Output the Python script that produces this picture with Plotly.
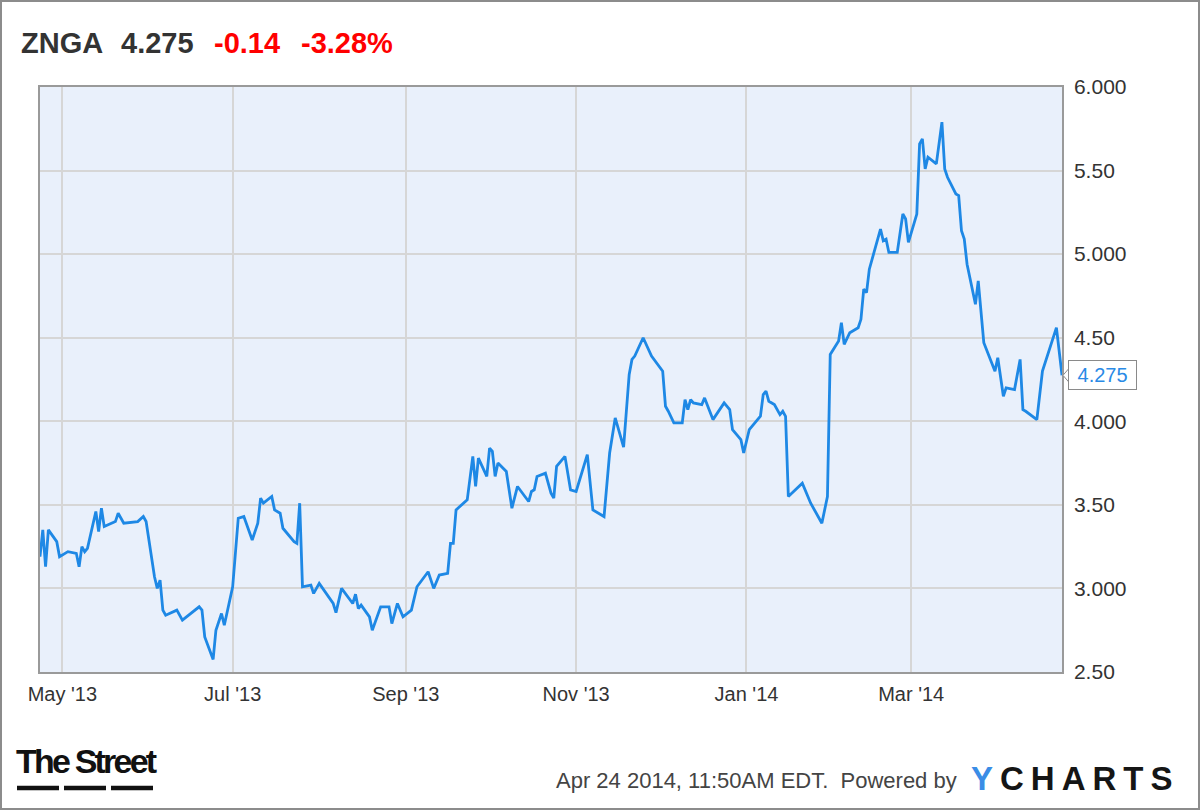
import plotly.graph_objects as go

# ---------------- data ----------------
dates = [
    "2013-04-23", "2013-04-24", "2013-04-25", "2013-04-26", "2013-04-29", "2013-04-30",
    "2013-05-03", "2013-05-06", "2013-05-07", "2013-05-08", "2013-05-09", "2013-05-10",
    "2013-05-13", "2013-05-14", "2013-05-15", "2013-05-16", "2013-05-20", "2013-05-21",
    "2013-05-23", "2013-05-28", "2013-05-30", "2013-05-31", "2013-06-03", "2013-06-04",
    "2013-06-05", "2013-06-06", "2013-06-07", "2013-06-11", "2013-06-13", "2013-06-19",
    "2013-06-20", "2013-06-21", "2013-06-24", "2013-06-25", "2013-06-27", "2013-06-28",
    "2013-07-01", "2013-07-03", "2013-07-05", "2013-07-08", "2013-07-10", "2013-07-11",
    "2013-07-12", "2013-07-15", "2013-07-16", "2013-07-18", "2013-07-19", "2013-07-23",
    "2013-07-24", "2013-07-25", "2013-07-26", "2013-07-29", "2013-07-30", "2013-08-01",
    "2013-08-06", "2013-08-07", "2013-08-09", "2013-08-13", "2013-08-14", "2013-08-15",
    "2013-08-16", "2013-08-19", "2013-08-20", "2013-08-23", "2013-08-26", "2013-08-27",
    "2013-08-29", "2013-08-31", "2013-09-03", "2013-09-05", "2013-09-09", "2013-09-11",
    "2013-09-13", "2013-09-16", "2013-09-17", "2013-09-18", "2013-09-19", "2013-09-23",
    "2013-09-25", "2013-09-26", "2013-09-27", "2013-09-30", "2013-10-01", "2013-10-02",
    "2013-10-03", "2013-10-04", "2013-10-07", "2013-10-09", "2013-10-11", "2013-10-15",
    "2013-10-16", "2013-10-17", "2013-10-18", "2013-10-21", "2013-10-23", "2013-10-24",
    "2013-10-25", "2013-10-28", "2013-10-30", "2013-11-01", "2013-11-05", "2013-11-07",
    "2013-11-11", "2013-11-13", "2013-11-15", "2013-11-18", "2013-11-20", "2013-11-21",
    "2013-11-22", "2013-11-25", "2013-11-28", "2013-12-02", "2013-12-03", "2013-12-04",
    "2013-12-06", "2013-12-09", "2013-12-10", "2013-12-11", "2013-12-12", "2013-12-13",
    "2013-12-16", "2013-12-17", "2013-12-20", "2013-12-24", "2013-12-26", "2013-12-27",
    "2013-12-30", "2013-12-31", "2014-01-02", "2014-01-06", "2014-01-07", "2014-01-08",
    "2014-01-09", "2014-01-11", "2014-01-13", "2014-01-14", "2014-01-15", "2014-01-16",
    "2014-01-21", "2014-01-24", "2014-01-28", "2014-01-30", "2014-01-31", "2014-02-03",
    "2014-02-04", "2014-02-05", "2014-02-07", "2014-02-10", "2014-02-11", "2014-02-12",
    "2014-02-13", "2014-02-14", "2014-02-18", "2014-02-19", "2014-02-20", "2014-02-21",
    "2014-02-24", "2014-02-26", "2014-02-27", "2014-02-28", "2014-03-03", "2014-03-04",
    "2014-03-05", "2014-03-06", "2014-03-07", "2014-03-10", "2014-03-12", "2014-03-13",
    "2014-03-14", "2014-03-17", "2014-03-18", "2014-03-19", "2014-03-20", "2014-03-21",
    "2014-03-24", "2014-03-25", "2014-03-27", "2014-03-31", "2014-04-01", "2014-04-03",
    "2014-04-04", "2014-04-07", "2014-04-09", "2014-04-10", "2014-04-11", "2014-04-15",
    "2014-04-17", "2014-04-22", "2014-04-24",
]
prices = [
    3.19, 3.35, 3.13, 3.35, 3.28, 3.19,
    3.22, 3.21, 3.13, 3.25, 3.22, 3.24,
    3.46, 3.34, 3.48, 3.37, 3.40, 3.45,
    3.39, 3.40, 3.43, 3.40, 3.07, 3.00,
    3.05, 2.87, 2.84, 2.87, 2.81, 2.89,
    2.87, 2.71, 2.575, 2.75, 2.85, 2.78,
    3.01, 3.42, 3.43, 3.29, 3.39, 3.54,
    3.51, 3.55, 3.47, 3.45, 3.36, 3.28,
    3.27, 3.51, 3.01, 3.02, 2.97, 3.03,
    2.91, 2.855, 3.00, 2.91, 2.965, 2.88,
    2.90, 2.83, 2.75, 2.89, 2.89, 2.79,
    2.91, 2.83, 2.87, 3.01, 3.10, 3.00,
    3.08, 3.09, 3.27, 3.27, 3.47, 3.53,
    3.79, 3.61, 3.78, 3.67, 3.84, 3.82,
    3.67, 3.75, 3.70, 3.48, 3.61, 3.52,
    3.58, 3.59, 3.67, 3.69, 3.57, 3.54,
    3.73, 3.79, 3.59, 3.58, 3.80, 3.47,
    3.43, 3.81, 4.02, 3.845, 4.28, 4.37,
    4.39, 4.50, 4.39, 4.30, 4.09, 4.06,
    3.99, 3.99, 4.13, 4.07, 4.13, 4.11,
    4.10, 4.14, 4.01, 4.11, 4.07, 3.95,
    3.89, 3.81, 3.95, 4.03, 4.16, 4.18,
    4.12, 4.10, 4.04, 4.06, 4.03, 3.55,
    3.63, 3.51, 3.39, 3.55, 4.40, 4.48,
    4.59, 4.46, 4.53, 4.56, 4.61, 4.79,
    4.77, 4.91, 5.15, 5.08, 5.09, 5.01,
    5.01, 5.24, 5.21, 5.07, 5.24, 5.66,
    5.69, 5.51, 5.58, 5.54, 5.79, 5.51,
    5.46, 5.36, 5.35, 5.14, 5.09, 4.94,
    4.70, 4.84, 4.47, 4.30, 4.38, 4.15,
    4.20, 4.19, 4.37, 4.07, 4.06, 4.01,
    4.30, 4.56, 4.275,
]
x_tick_dates = ["2013-05-01", "2013-07-01", "2013-09-01", "2013-11-01", "2014-01-01", "2014-03-01"]
x_tick_labels = ["May '13", "Jul '13", "Sep '13", "Nov '13", "Jan '14", "Mar '14"]
y_tick_values = [2.5, 3.0, 3.5, 4.0, 4.5, 5.0, 5.5, 6.0]
y_tick_labels = ["2.50", "3.000", "3.50", "4.000", "4.50", "5.000", "5.50", "6.000"]

ticker = "ZNGA"
last_price_label = "4.275"
change_label = "-0.14"
change_pct_label = "-3.28%"
last_price = 4.275
timestamp_label = "Apr 24 2014, 11:50AM EDT.\u00a0 Powered by"

# ---------------- layout helpers ----------------
W, H = 1200, 810
L, R, T, B = 40, 138, 87, 138
PW, PH = W - L - R, H - T - B


def px(x):
    return (x - L) / PW


def py(y):
    return (H - B - y) / PH


LINE_BLUE = "#1e88e5"
FONT = "Liberation Sans, Arial, Helvetica, sans-serif"

fig = go.Figure(
    go.Scatter(
        x=dates, y=prices, mode="lines",
        line=dict(color=LINE_BLUE, width=2.8),
        hoverinfo="skip",
    )
)

fig.update_layout(
    width=W, height=H,
    margin=dict(l=L, r=R, t=T, b=B, pad=0),
    paper_bgcolor="white",
    plot_bgcolor="#e9f0fb",
    showlegend=False,
    font=dict(family=FONT, color="#333333"),
)

fig.update_xaxes(
    type="date",
    range=[dates[0], dates[-1]],
    tickvals=x_tick_dates, ticktext=x_tick_labels,
    showgrid=True, gridcolor="#d6d6d6", gridwidth=1.5,
    showline=True, linecolor="#9a9a9a", linewidth=1.5, mirror=True,
    ticks="", zeroline=False,
    tickfont=dict(size=20, color="#333333", family=FONT),
    ticklabelstandoff=3,
)
fig.update_yaxes(
    side="right",
    range=[2.5, 6.0],
    tickvals=y_tick_values, ticktext=y_tick_labels,
    showgrid=True, gridcolor="#d6d6d6", gridwidth=1.5,
    showline=True, linecolor="#9a9a9a", linewidth=1.5, mirror=True,
    ticks="", zeroline=False,
    tickfont=dict(size=21, color="#333333", family=FONT),
    ticklabelstandoff=6,
)

annotations = []
# header
header = [
    (ticker, 20, "#333333"),
    (last_price_label, 120, "#333333"),
    (change_label, 213, "#ff0000"),
    (change_pct_label, 300, "#ff0000"),
]
for text, xpos, col in header:
    annotations.append(dict(
        text="<b>" + text + "</b>", x=px(xpos), y=py(43), xref="paper", yref="paper",
        xanchor="left", yanchor="middle", showarrow=False, borderpad=0,
        font=dict(size=29, color=col, family=FONT),
    ))

# last value callout
annotations.append(dict(
    text="\u00a0" + last_price_label + "\u00a0", x=px(1068), y=last_price,
    xref="paper", yref="y",
    xanchor="left", yanchor="middle", showarrow=False,
    bgcolor="white", bordercolor="#8a8a8a", borderwidth=1, borderpad=3,
    font=dict(size=20, color="#2a8ae6", family=FONT),
))

# footer: The Street logo
annotations.append(dict(
    text='<b><span style="letter-spacing:-2.8px">The Street</span></b>',
    x=px(15), y=py(761), xref="paper", yref="paper",
    xanchor="left", yanchor="middle", showarrow=False, borderpad=0,
    font=dict(size=34, color="#111111", family=FONT),
))
# footer: timestamp
annotations.append(dict(
    text=timestamp_label, x=px(958), y=py(780), xref="paper", yref="paper",
    xanchor="right", yanchor="middle", showarrow=False, borderpad=0,
    font=dict(size=22, color="#444444", family=FONT),
))
# footer: YCHARTS
annotations.append(dict(
    text='<b><span style="color:#3a8de6;letter-spacing:7px">Y</span>'
         '<span style="letter-spacing:7px">CHARTS</span></b>',
    x=px(970), y=py(778), xref="paper", yref="paper",
    xanchor="left", yanchor="middle", showarrow=False, borderpad=0,
    font=dict(size=33, color="#151515", family=FONT),
))

shapes = []
# outer frame of the image
shapes.append(dict(
    type="rect", xref="paper", yref="paper",
    x0=px(1), x1=px(1199), y0=py(809), y1=py(1),
    line=dict(color="#8c8c8c", width=2), fillcolor="rgba(0,0,0,0)", layer="above",
))
# callout notch
shapes.append(dict(
    type="path", xref="paper", yref="y", xsizemode="pixel", ysizemode="pixel",
    xanchor=px(1062), yanchor=last_price,
    path="M 1,0 L 7,-7 L 7,7 Z",
    line=dict(color="#8a8a8a", width=1), fillcolor="white", layer="above",
))
# underline dashes of the logo
for x0, x1 in [(17, 59), (64, 106), (111, 153)]:
    shapes.append(dict(
        type="line", xref="paper", yref="paper",
        x0=px(x0), x1=px(x1), y0=py(788), y1=py(788),
        line=dict(color="#111111", width=4.5), layer="above",
    ))

fig.update_layout(annotations=annotations, shapes=shapes)

fig.write_html(
    "out.html",
    config={"displayModeBar": False},
    post_script="document.body.style.margin='0';document.body.style.padding='0';",
)
